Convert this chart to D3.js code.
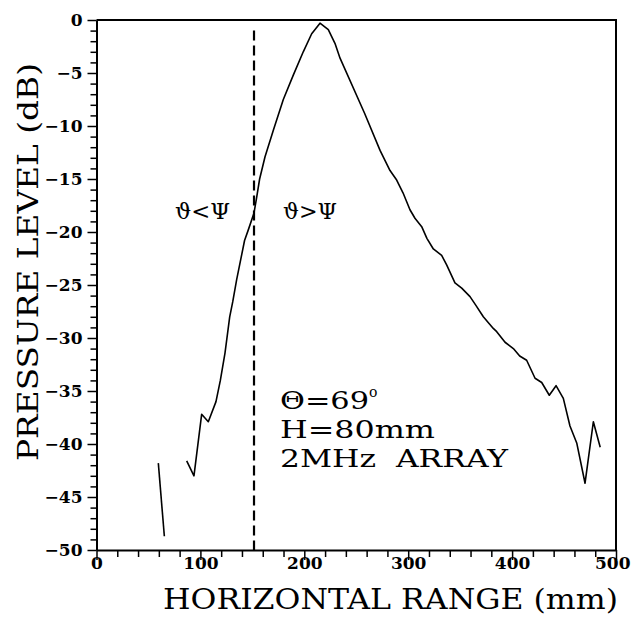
<!DOCTYPE html>
<html>
<head>
<meta charset="utf-8">
<script src="https://cdn.jsdelivr.net/npm/d3@7"></script>
<style>
  body { margin: 0; background: #fff; }
  svg { display: block; }
  .tick text { font-family: "DejaVu Serif", serif; font-weight: bold; font-size: 17px; }
</style>
</head>
<body>
<svg width="632" height="617"></svg>
<script>
var stubRange = [59.5, 65.3],
    stubLevel = [-41.8, -48.7];

var mainRange = [86.8, 93.8, 101.2, 107.6, 115, 119.2, 123.7, 128.2, 131.1, 134.9,
                 142.5, 146.1, 151.6, 154.2, 157, 162.2, 170.2, 179.8, 189.4, 199,
                 207.1, 215.1, 223.1, 229.5, 234.4, 258, 272.9, 282.5, 288.9, 295,
                 301.7, 306.5, 313, 318, 324.2, 332.2, 337, 345, 351.5, 359.5,
                 365, 372.3, 381.9, 385.2, 393.2, 401.2, 407.3, 414, 422.1, 428.5,
                 435.8, 442.3, 449.3, 455.7, 462.2, 470.2, 478.2, 484.8];
var mainLevel = [-41.6, -43.0, -37.2, -37.9, -36.0, -34.0, -31.4, -28.0, -26.6, -24.5,
                 -20.8, -19.8, -18.2, -16.7, -15.0, -12.9, -10.4, -7.5, -5.2, -3.0,
                 -1.3, -0.3, -0.9, -2.2, -3.6, -8.8, -12.3, -14.2, -15.1, -16.3,
                 -17.9, -18.7, -19.5, -20.6, -21.6, -22.2, -23.1, -24.8, -25.3, -26.1,
                 -26.9, -28.0, -29.1, -29.4, -30.4, -31.0, -31.7, -32.1, -33.8, -34.2,
                 -35.4, -34.5, -35.7, -38.3, -39.9, -43.7, -37.9, -40.3];

var boundaryRange = 151.6;   // dashed line, theta = psi
var xTicks = d3.range(0, 501, 20),
    yTicks = d3.range(-50, 1, 1);
var infoLines = ["H=80mm", "2MHz  ARRAY"];

var svg = d3.select("svg");

var x = d3.scaleLinear().domain([0, 500]).range([96.5, 616]),
    y = d3.scaleLinear().domain([-50, 0]).range([550, 20]);

var line = d3.line()
             .x(function(d) { return x(d[0]); })
             .y(function(d) { return y(d[1]); });

// axes
var xAxis = d3.axisBottom(x)
              .tickValues(xTicks)
              .tickSize(10)
              .tickSizeOuter(0)
              .tickFormat(function(d) { return d % 100 === 0 ? d : ""; });

var yAxis = d3.axisLeft(y)
              .tickValues(yTicks)
              .tickSize(9)
              .tickSizeOuter(0)
              .tickPadding(5)
              .tickFormat(function(d) { return d % 5 === 0 ? d3.format("")(d) : ""; });

var gx = svg.append("g")
            .attr("transform", "translate(0," + y(-50) + ")")
            .call(xAxis);
gx.selectAll(".tick line")
  .attr("y2", function(d) { return d % 100 === 0 ? 10 : 7; })
  .attr("stroke-width", 1.5);
gx.selectAll(".tick text").attr("y", 7).attr("fill", "#000");
// last label sits left of the page edge
gx.selectAll(".tick text")
  .filter(function(d) { return d === 500; })
  .attr("text-anchor", "end")
  .attr("x", 14);
gx.select(".domain").attr("stroke-width", 2);

var gy = svg.append("g")
            .attr("transform", "translate(" + x(0) + ",0)")
            .call(yAxis);
gy.selectAll(".tick line")
  .attr("x2", function(d) { return d % 5 === 0 ? -9 : -6; })
  .attr("stroke-width", 1.5);
gy.selectAll(".tick text").attr("fill", "#000");
gy.select(".domain").attr("stroke-width", 2);

// frame top and right
svg.append("path")
   .attr("d", "M" + x(0) + "," + y(0) + "H" + x(500) + "V" + y(-50))
   .attr("fill", "none")
   .attr("stroke", "#000")
   .attr("stroke-width", 2);

// boundary
svg.append("line")
   .attr("x1", x(boundaryRange)).attr("x2", x(boundaryRange))
   .attr("y1", y(-1)).attr("y2", y(-50))
   .attr("stroke", "#000")
   .attr("stroke-width", 2.2)
   .attr("stroke-dasharray", "10,5");

// curves
svg.append("path")
   .datum(d3.zip(stubRange, stubLevel))
   .attr("d", line)
   .attr("fill", "none")
   .attr("stroke", "#000")
   .attr("stroke-width", 1.6);

svg.append("path")
   .datum(d3.zip(mainRange, mainLevel))
   .attr("d", line)
   .attr("fill", "none")
   .attr("stroke", "#000")
   .attr("stroke-width", 1.6)
   .attr("stroke-linejoin", "round");

// axis titles
svg.append("text")
   .attr("x", 163).attr("y", 609)
   .attr("textLength", 455)
   .attr("lengthAdjust", "spacingAndGlyphs")
   .style("font-family", "'DejaVu Serif', serif")
   .style("font-size", "28px")
   .text("HORIZONTAL RANGE (mm)");

svg.append("text")
   .attr("transform", "translate(38,461) rotate(-90)")
   .attr("textLength", 398)
   .attr("lengthAdjust", "spacingAndGlyphs")
   .style("font-family", "'DejaVu Serif', serif")
   .style("font-size", "28px")
   .text("PRESSURE LEVEL (dB)");

// region labels
svg.append("text")
   .attr("x", 175).attr("y", 219)
   .attr("textLength", 55)
   .attr("lengthAdjust", "spacingAndGlyphs")
   .style("font-family", "'DejaVu Serif', serif")
   .style("font-size", "22px")
   .text("ϑ<Ψ");

svg.append("text")
   .attr("x", 283).attr("y", 219)
   .attr("textLength", 54)
   .attr("lengthAdjust", "spacingAndGlyphs")
   .style("font-family", "'DejaVu Serif', serif")
   .style("font-size", "22px")
   .text("ϑ>Ψ");

// case info
var info = svg.append("g")
              .style("font-family", "'DejaVu Serif', serif")
              .style("font-size", "24px");

var t1 = info.append("text").attr("x", 280).attr("y", 409);
t1.append("tspan")
  .attr("textLength", 89)
  .attr("lengthAdjust", "spacingAndGlyphs")
  .text("Θ=69");
t1.append("tspan").attr("dy", -12).style("font-size", "14px").text("o");

info.selectAll("text.row")
    .data(infoLines)
    .enter().append("text")
    .attr("class", "row")
    .attr("x", 280)
    .attr("y", function(d, i) { return 438 + i * 29; })
    .attr("textLength", function(d, i) { return i === 0 ? 155 : 228; })
    .attr("lengthAdjust", "spacingAndGlyphs")
    .attr("xml:space", "preserve")
    .text(function(d) { return d; });
</script>
</body>
</html>
